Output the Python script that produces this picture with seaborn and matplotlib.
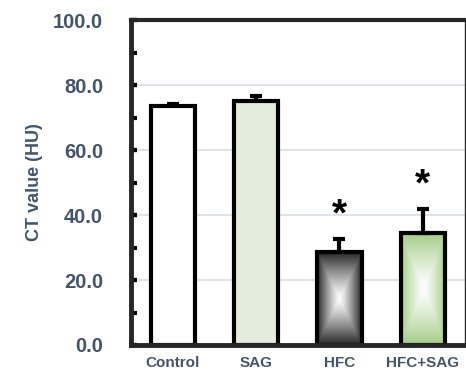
import numpy as np
import pandas as pd
import matplotlib
matplotlib.use('Agg')
import matplotlib.pyplot as plt
from matplotlib.colors import to_rgb
from matplotlib.ticker import MultipleLocator
import seaborn as sns

# data
groups = ['Control', 'SAG', 'HFC', 'HFC+SAG']
ct_mean = [73.5, 75.2, 28.6, 34.5]
ct_err = [0.6, 1.4, 4.0, 7.3]
significant = [False, False, True, True]

fills = ['#ffffff', '#e2efda', '#ffffff', '#ffffff']
gradient_edge = [None, None, '#262626', '#a3cc86']

label_col = '#44546a'
sns.set_style('white')
plt.rcParams['font.family'] = ['Liberation Sans', 'DejaVu Sans']
plt.rcParams.update({'font.weight': 'bold',
                     'ytick.labelcolor': label_col, 'xtick.labelcolor': label_col,
                     'ytick.labelsize': 14.5, 'xtick.labelsize': 11})

df = pd.DataFrame({'group': groups, 'ct': ct_mean})

fig = plt.figure(figsize=(4.66, 3.70), dpi=100)
ax = fig.add_axes([0.281, 0.0676, 0.716, 0.878])
ax.set_axisbelow(True)

# spines first
ax.spines['left'].set_linewidth(3.5)
ax.spines['bottom'].set_linewidth(3.5)
ax.spines['top'].set_linewidth(3)
ax.spines['right'].set_linewidth(1)

sns.barplot(data=df, x='group', y='ct', hue='group', palette=fills, legend=False,
            errorbar=None, width=0.53, edgecolor='black', linewidth=3, ax=ax, zorder=2)

# box-shaped gradient fill for the HFC groups
n = 200
u = np.linspace(-1, 1, n)
U, V = np.meshgrid(u, u)
t = np.clip(np.maximum(np.abs(U), np.abs(V)), 0, 1) ** 1.2
for bar, edge in zip(ax.patches, gradient_edge):
    if edge is None:
        continue
    bar.set_facecolor('none')
    c = np.array(to_rgb(edge))
    img = (1 - t)[..., None] * np.ones(3) + t[..., None] * c
    x0, y0 = bar.get_x(), bar.get_y()
    im = ax.imshow(img, extent=[x0, x0 + bar.get_width(), y0, y0 + bar.get_height()],
                   aspect='auto', zorder=1.5, interpolation='bilinear')
    im.set_clip_path(bar)

xs = np.arange(len(groups))
ax.errorbar(xs, ct_mean, yerr=[np.zeros(len(groups)), ct_err], fmt='none',
            ecolor='black', elinewidth=3, capsize=4.5, capthick=3, zorder=1.8)

for x, m, e, s in zip(xs, ct_mean, ct_err, significant):
    if s:
        ax.text(x, m + e + 1.8, '*', ha='center', va='bottom', fontsize=28,
                fontweight='bold', color='black')

ax.set_xlabel('')
ax.set_ylabel('CT value (HU)', fontsize=13, fontweight='bold', color=label_col, labelpad=7)

ax.set_xlim(-0.5, 3.5)
ax.set_ylim(0, 100)
ax.yaxis.set_major_locator(MultipleLocator(20))
ax.yaxis.set_minor_locator(MultipleLocator(10))
ax.yaxis.remove_overlapping_locs = False
ax.yaxis.set_major_formatter(lambda v, p: f'{v:.1f}')
ax.grid(axis='y', which='major', color='#d9dde4', linewidth=1.2)

ax.tick_params(axis='x', length=0, pad=8)
ax.tick_params(axis='y', which='major', pad=20)
# ticks last, so nothing resets them
ax.tick_params(axis='y', which='both', direction='in', length=4, width=3,
               color='black', left=True)

fig.savefig('out.png', dpi=100)
